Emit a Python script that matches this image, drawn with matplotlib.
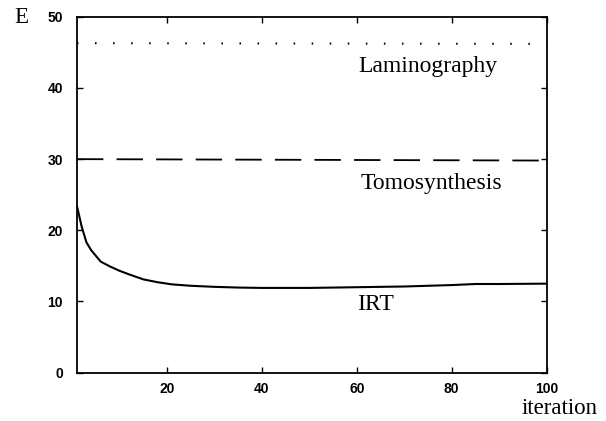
import matplotlib.pyplot as plt
import numpy as np

plt.rcParams['lines.scale_dashes'] = False

# data
lam_x = [1, 100]
lam_y = [46.3, 46.2]
tomo_x = [1, 100]
tomo_y = [30.0, 29.8]
irt_x = [1, 2, 3, 4, 6, 8, 10, 12, 15, 18, 21, 25, 30, 35, 40, 50, 60, 70, 80, 85, 90, 100]
irt_y = [23.4, 20.5, 18.3, 17.2, 15.6, 14.9, 14.3, 13.8, 13.1, 12.7, 12.4, 12.2, 12.05, 11.95, 11.9,
         11.9, 12.0, 12.1, 12.3, 12.45, 12.45, 12.5]
xticks = [20, 40, 60, 80, 100]
yticks = [0, 10, 20, 30, 40, 50]

fig = plt.figure(figsize=(6.06, 4.21), dpi=100)
ax = fig.add_axes([0.127, 0.115, 0.775, 0.845])

ax.plot(lam_x, lam_y, color='black', lw=1.5, linestyle=(0, (1.1, 11.9)))
ax.plot(tomo_x, tomo_y, color='black', lw=1.3, linestyle=(0, (19, 9.5)))
ax.plot(irt_x, irt_y, color='black', lw=1.5)

ax.set_xlim(1, 100)
ax.set_ylim(0, 50)
ax.set_xticks(xticks)
ax.set_yticks(yticks)
ax.tick_params(direction='in', top=True, right=True, length=4, width=1,
               labelsize=10)
ax.tick_params(axis='x', pad=7)
ax.tick_params(axis='y', pad=10)
for lab in ax.get_xticklabels() + ax.get_yticklabels():
    lab.set_fontfamily('Liberation Sans')
    lab.set_fontweight('bold')
for s in ax.spines.values():
    s.set_linewidth(1.3)

serif = 'Liberation Serif'
ax.text(74.9, 43.0, 'Laminography', fontsize=17, family=serif, ha='center', va='center')
ax.text(75.7, 26.6, 'Tomosynthesis', fontsize=17, family=serif, ha='center', va='center')
ax.text(63.9, 9.5, 'IRT', fontsize=17, family=serif, ha='center', va='center')
fig.text(0.035, 0.958, 'E', fontsize=16.5, family=serif, ha='center', va='center')
fig.text(0.924, 0.03, 'iteration', fontsize=16.5, family=serif, ha='center', va='center')

fig.savefig('out.png', dpi=100)
